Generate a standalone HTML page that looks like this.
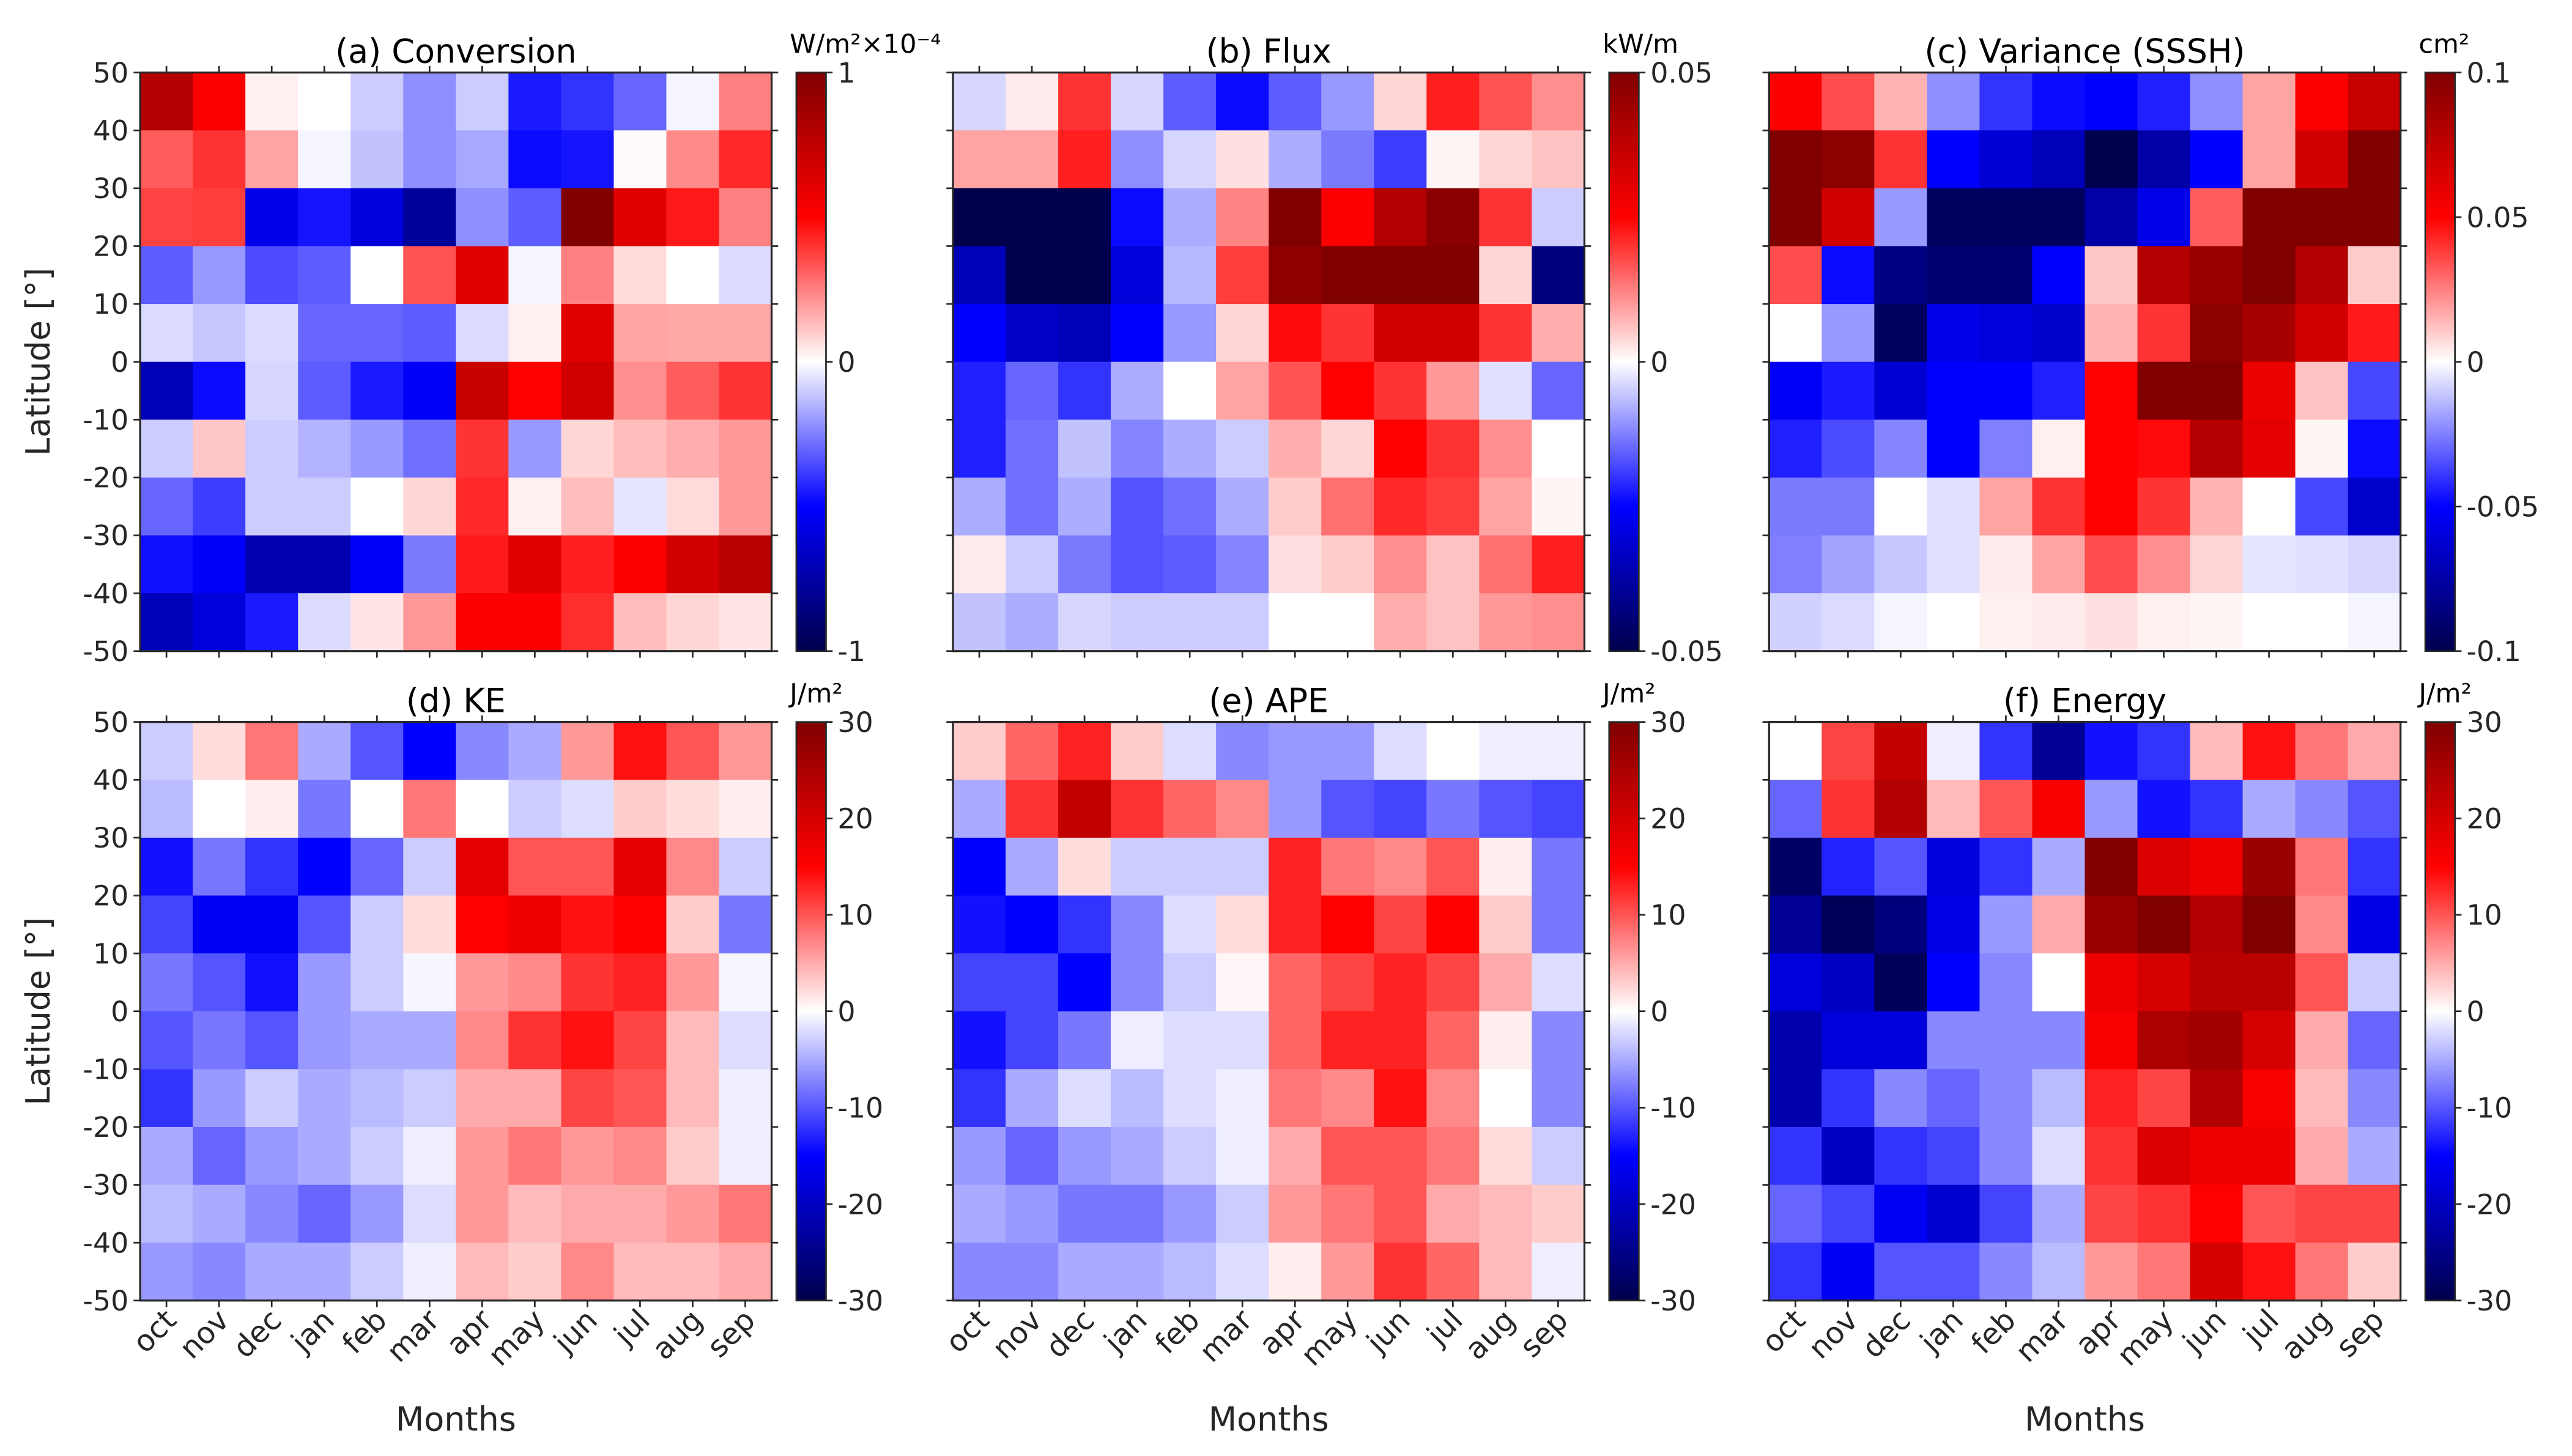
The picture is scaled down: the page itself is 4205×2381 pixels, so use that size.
<!DOCTYPE html>
<html><head><meta charset="utf-8"><style>
html,body{margin:0;padding:0;background:#fff;}
svg{display:block;font-family:"DejaVu Sans","Liberation Sans",sans-serif;}
</style></head><body>
<svg id="fig" width="4205" height="2381" viewBox="0 0 1560 883.3" xmlns="http://www.w3.org/2000/svg"></svg>
<script>
const months = ["oct","nov","dec","jan","feb","mar","apr","may","jun","jul","aug","sep"];
const latTicks = [50,40,30,20,10,0,-10,-20,-30,-40,-50];
const convData = [
[0.8,0.52,0.03,0,-0.1,-0.22,-0.1,-0.45,-0.4,-0.3,-0.02,0.25],
[0.32,0.4,0.18,-0.02,-0.12,-0.22,-0.17,-0.48,-0.46,0.01,0.23,0.42],
[0.37,0.38,-0.56,-0.46,-0.6,-0.78,-0.22,-0.32,1,0.62,0.45,0.25],
[-0.32,-0.2,-0.35,-0.32,0,0.34,0.62,-0.02,0.25,0.07,0,-0.07],
[-0.07,-0.11,-0.07,-0.3,-0.3,-0.32,-0.07,0.03,0.62,0.18,0.17,0.17],
[-0.7,-0.48,-0.08,-0.32,-0.45,-0.52,0.72,0.5,0.68,0.22,0.32,0.4],
[-0.1,0.11,-0.1,-0.15,-0.2,-0.28,0.4,-0.2,0.08,0.13,0.16,0.2],
[-0.3,-0.38,-0.1,-0.1,0,0.08,0.42,0.03,0.13,-0.05,0.07,0.2],
[-0.47,-0.52,-0.72,-0.72,-0.52,-0.26,0.45,0.62,0.44,0.52,0.68,0.78],
[-0.7,-0.6,-0.45,-0.07,0.05,0.2,0.52,0.52,0.41,0.13,0.08,0.05]];
const fluxData = [
[-0.004,0.002,0.02,-0.004,-0.016,-0.024,-0.016,-0.01,0.004,0.022,0.017,0.011],
[0.009,0.009,0.022,-0.011,-0.004,0.003,-0.008,-0.013,-0.019,0.001,0.004,0.006],
[-0.05,-0.05,-0.05,-0.024,-0.008,0.012,0.05,0.026,0.04,0.048,0.02,-0.005],
[-0.035,-0.05,-0.05,-0.03,-0.007,0.019,0.047,0.05,0.05,0.05,0.004,-0.043],
[-0.025,-0.033,-0.035,-0.025,-0.01,0.004,0.024,0.02,0.034,0.034,0.02,0.008],
[-0.022,-0.015,-0.02,-0.008,0,0.009,0.017,0.025,0.02,0.01,-0.003,-0.015],
[-0.022,-0.014,-0.006,-0.012,-0.008,-0.005,0.008,0.004,0.025,0.02,0.011,0],
[-0.008,-0.014,-0.008,-0.017,-0.014,-0.008,0.005,0.014,0.021,0.019,0.009,0.001],
[0.002,-0.005,-0.013,-0.017,-0.016,-0.012,0.003,0.005,0.011,0.006,0.014,0.022],
[-0.006,-0.008,-0.004,-0.005,-0.005,-0.005,0,0,0.008,0.006,0.01,0.011]];
const varData = [
[0.052,0.035,0.015,-0.022,-0.04,-0.048,-0.05,-0.044,-0.022,0.018,0.052,0.072],
[0.1,0.095,0.04,-0.05,-0.062,-0.07,-0.1,-0.075,-0.05,0.018,0.068,0.1],
[0.1,0.068,-0.02,-0.095,-0.095,-0.095,-0.075,-0.056,0.032,0.1,0.1,0.1],
[0.035,-0.048,-0.085,-0.09,-0.09,-0.05,0.011,0.08,0.09,0.1,0.08,0.01],
[0,-0.02,-0.095,-0.056,-0.06,-0.064,0.015,0.04,0.095,0.085,0.068,0.045],
[-0.052,-0.045,-0.062,-0.05,-0.05,-0.044,0.05,0.1,0.1,0.058,0.012,-0.036],
[-0.044,-0.035,-0.024,-0.05,-0.025,0.003,0.05,0.048,0.08,0.06,0.002,-0.048],
[-0.026,-0.026,0,-0.006,0.018,0.04,0.05,0.04,0.015,0,-0.036,-0.064],
[-0.025,-0.018,-0.011,-0.006,0.004,0.018,0.035,0.022,0.008,-0.005,-0.006,-0.008],
[-0.009,-0.007,-0.002,0,0.003,0.004,0.006,0.003,0.002,0,0,-0.002]];
const keData = [
[-3,2,8,-5,-10,-15,-7,-5,6,14,10,6],
[-4,0,1,-8,0,8,0,-3,-2,3,2,1],
[-14,-8,-12,-15,-9,-3,18,10,10,18,7,-3],
[-11,-16,-16,-10,-3,2,15,17,14,15,3,-8],
[-8,-10,-14,-6,-3,-0.5,6,7,12,13,6,-0.5],
[-10,-8,-10,-6,-5,-5,7,12,14,11,4,-2],
[-12,-6,-3,-5,-4,-3,5,5,11,10,4,-1],
[-5,-9,-6,-5,-3,-1,6,8,6,7,3,-1],
[-4,-5,-7,-9,-6,-2,6,4,5,5,6,8],
[-6,-7,-5,-5,-3,-1,4,3,7,4,4,5]];
const apeData = [
[3,9,13,3,-2,-7,-6,-6,-2,0,-1,-1],
[-5,12,22,12,9,7,-6,-10,-11,-8,-10,-11],
[-15,-5,2,-3,-3,-3,13,8,7,10,1,-8],
[-14,-15,-12,-7,-2,2,13,15,11,15,3,-8],
[-11,-11,-15,-7,-3,0.5,9,11,13,11,5,-2],
[-14,-11,-8,-1,-2,-2,9,13,13,9,1,-7],
[-12,-5,-2,-4,-2,-1,8,7,14,7,0,-7],
[-6,-9,-6,-5,-3,-1,5,10,10,8,2,-3],
[-5,-6,-8,-8,-6,-3,6,8,10,5,4,3],
[-7,-7,-5,-5,-4,-2,1,6,12,9,4,-1]];
const energyData = [
[0,11,22,-1,-12,-24,-14,-12,4,14,8,5],
[-9,12,24,4,10,16,-6,-14,-12,-5,-7,-10],
[-28,-13,-10,-18,-12,-5,30,19,17,27,8,-12],
[-24,-29,-26,-17,-6,5,27,30,24,30,7,-17],
[-18,-20,-29,-15,-7,0,17,20,23,23,10,-3],
[-22,-18,-18,-7,-7,-7,16,25,26,20,5,-9],
[-22,-12,-7,-9,-7,-4,13,11,24,16,4,-7],
[-12,-20,-12,-11,-7,-2,12,19,17,17,5,-5],
[-9,-11,-16,-19,-11,-5,11,12,15,10,11,11],
[-12,-16,-10,-10,-7,-4,6,8,20,14,8,3]];
const cbTicksA = [1,0,-1];
const cbTicksB = [0.05,0,-0.05];
const cbTicksC = [0.1,0.05,0,-0.05,-0.1];
const cbTicksE = [30,20,10,0,-10,-20,-30];

const NS="http://www.w3.org/2000/svg";
const svg=document.getElementById('fig');
function mk(tag,attrs,parent){const e=document.createElementNS(NS,tag);for(const k in attrs)e.setAttribute(k,attrs[k]);(parent||svg).appendChild(e);return e;}
const stops=[[0,0,0.3],[0,0,1],[1,1,1],[1,0,0],[0.5,0,0]];
function cmap(t){t=Math.max(0,Math.min(1,t));const p=t*4;const i=Math.min(3,Math.floor(p));const f=p-i;const a=stops[i],b=stops[i+1];
return 'rgb('+[0,1,2].map(k=>Math.round(255*(a[k]+(b[k]-a[k])*f))).join(',')+')';}
const defs=mk('defs',{});
const lg=mk('linearGradient',{id:'seis',x1:0,y1:1,x2:0,y2:0},defs);
for(let i=0;i<=40;i++){mk('stop',{offset:(i/40),'stop-color':cmap(i/40)},lg);}

const panels=[
 {data:convData,vmax:1,title:'(a) Conversion',x:85,y:44,cbt:cbTicksA,unit:'W/m²×10⁻⁴',name:'conversion',left:true,bottom:false},
 {data:fluxData,vmax:0.05,title:'(b) Flux',x:578,y:44,cbt:cbTicksB,unit:'kW/m',name:'flux',left:false,bottom:false},
 {data:varData,vmax:0.1,title:'(c) Variance (SSSH)',x:1073,y:44,cbt:cbTicksC,unit:'cm²',name:'variance',left:false,bottom:false},
 {data:keData,vmax:30,title:'(d) KE',x:85,y:438,cbt:cbTicksE,unit:'J/m²',name:'ke',left:true,bottom:true},
 {data:apeData,vmax:30,title:'(e) APE',x:578,y:438,cbt:cbTicksE,unit:'J/m²',name:'ape',left:false,bottom:true},
 {data:energyData,vmax:30,title:'(f) Energy',x:1073,y:438,cbt:cbTicksE,unit:'J/m²',name:'energy',left:false,bottom:true}];
const PW=383,PH=351,TC='#262626';
panels.forEach(p=>{
 const g=mk('g',{});
 
 
 const nr=p.data.length,nc=months.length;
 const cw=PW/nc,rh=PH/nr;
 const xs=j=>p.x+j*cw;
 const ys=lat=>p.y+(50-lat)/100*PH;
 p.data.forEach((row,i)=>row.forEach((v,j)=>{
   const latTop=50-i*10;
   const r=mk('rect',{x:xs(j),y:ys(latTop),width:cw+0.4,height:rh+0.4,fill:cmap((v/p.vmax+1)/2)},g);
   
   
 }));
 mk('rect',{x:p.x,y:p.y,width:PW,height:PH,fill:'none',stroke:TC,'stroke-width':1.2},g);
 latTicks.forEach(l=>{
   const y=ys(l);
   mk('line',{x1:p.x-4,x2:p.x,y1:y,y2:y,stroke:TC,'stroke-width':1},g);
   mk('line',{x1:p.x+PW,x2:p.x+PW+4,y1:y,y2:y,stroke:TC,'stroke-width':1},g);
   if(p.left){const t=mk('text',{x:p.x-7,y:y+6,'text-anchor':'end','font-size':17,fill:TC},g);t.textContent=l;
     }
 });
 months.forEach((m,j)=>{
   const x=xs(j+0.5);
   mk('line',{x1:x,x2:x,y1:p.y-4,y2:p.y,stroke:TC,'stroke-width':1},g);
   mk('line',{x1:x,x2:x,y1:p.y+PH,y2:p.y+PH+4,stroke:TC,'stroke-width':1},g);
   if(p.bottom){const t=mk('text',{x:x+7,y:p.y+PH+13,'text-anchor':'end','font-size':18,fill:TC,transform:'rotate(-45 '+(x+7)+' '+(p.y+PH+13)+')'},g);t.textContent=m;
     }
 });
 const tt=mk('text',{x:p.x+PW/2,y:p.y-6,'text-anchor':'middle','font-size':20,fill:'#000'},g);tt.textContent=p.title;
 
 if(p.left){const yl=mk('text',{x:30,y:p.y+PH/2,'text-anchor':'middle','font-size':20,fill:TC,transform:'rotate(-90 30 '+(p.y+PH/2)+')'},g);yl.textContent='Latitude [°]';
   }
 if(p.bottom){const xl=mk('text',{x:p.x+PW/2,y:868,'text-anchor':'middle','font-size':20,fill:TC},g);xl.textContent='Months';
   }
 const cx=p.x+PW+15,cwid=18;
 const cb=mk('rect',{x:cx,y:p.y,width:cwid,height:PH,fill:'url(#seis)',stroke:TC,'stroke-width':1},g);
 
 p.cbt.forEach(v=>{
   const y=p.y+(p.vmax-v)/(2*p.vmax)*PH;
   mk('line',{x1:cx+cwid,x2:cx+cwid+4,y1:y,y2:y,stroke:TC,'stroke-width':1},g);
   const t=mk('text',{x:cx+cwid+7,y:y+6,'font-size':17,fill:TC},g);t.textContent=v;
   
 });
 const u=mk('text',{x:cx-4,y:p.y-12,'font-size':16,fill:'#000'},g);u.textContent=p.unit;
 
});
</script>
</body></html>
